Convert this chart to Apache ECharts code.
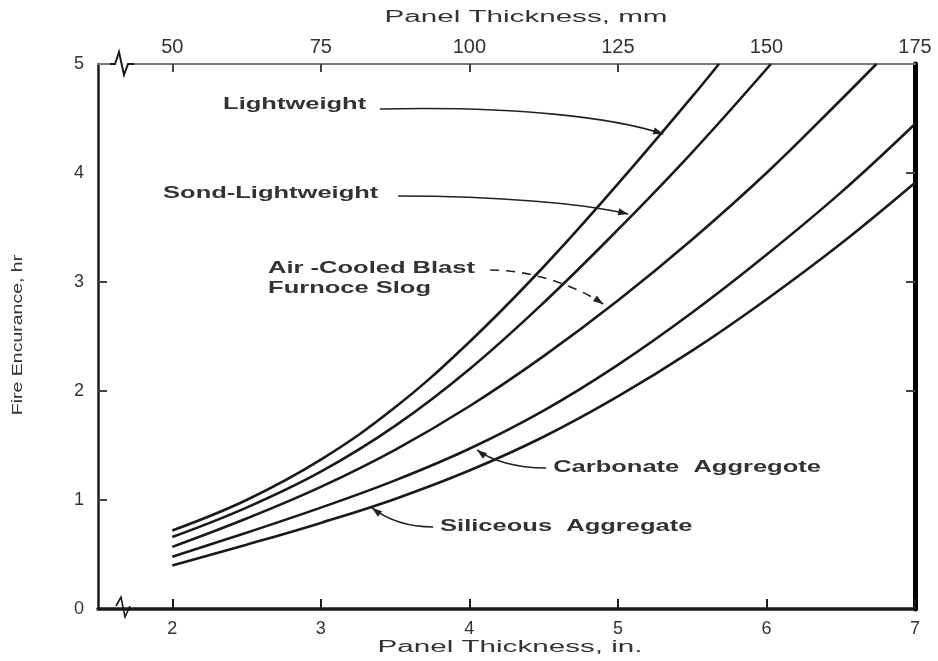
<!DOCTYPE html>
<html><head><meta charset="utf-8">
<script src="https://cdn.jsdelivr.net/npm/echarts@6/dist/echarts.min.js"></script>
<style>html,body{margin:0;padding:0;background:#fff}#c{width:938px;height:661px}</style>
</head><body><div id="c"></div>
<script>
// ---- tick labels ----
const inchTicks = [2, 3, 4, 5, 6, 7];
const mmLabels = [50, 75, 100, 125, 150, 175];
const mmTickMarks = [50, 75, 100, 125];
const hrLeftTicks = [1, 2, 3];
const hrRightTicks = [2, 3, 4];

// ---- series (x: panel thickness in., y: fire endurance hr) ----
const lightweightX = [2, 2.5, 3, 3.5, 4, 4.5, 5, 5.5, 5.68];
const lightweightY = [0.72, 1.0, 1.37, 1.85, 2.45, 3.14, 3.9, 4.7, 5.0];
const sandLightX = [2, 2.5, 3, 3.5, 4, 4.5, 5, 5.5, 6.03];
const sandLightY = [0.66, 0.93, 1.26, 1.68, 2.2, 2.81, 3.48, 4.19, 5.0];
const slagX = [2, 2.5, 3, 3.5, 4, 4.5, 5, 5.5, 6, 6.5, 6.74];
const slagY = [0.57, 0.83, 1.12, 1.46, 1.86, 2.32, 2.83, 3.39, 4.0, 4.67, 5.0];
const carbonateX = [2, 2.5, 3, 3.5, 4, 4.5, 5, 5.5, 6, 6.5, 7];
const carbonateY = [0.48, 0.7, 0.93, 1.18, 1.47, 1.82, 2.24, 2.72, 3.25, 3.82, 4.45];
const siliceousX = [2, 2.5, 3, 3.5, 4, 4.5, 5, 5.5, 6, 6.5, 7];
const siliceousY = [0.40, 0.59, 0.79, 1.01, 1.27, 1.58, 1.95, 2.37, 2.84, 3.35, 3.91];

const seriesDefs = [
  ['Lightweight', lightweightX, lightweightY],
  ['Sand-Lightweight', sandLightX, sandLightY],
  ['Air-Cooled Blast Furnace Slag', slagX, slagY],
  ['Carbonate Aggregate', carbonateX, carbonateY],
  ['Siliceous Aggregate', siliceousX, siliceousY]
];

// ---- annotations (data coordinates) ----
const labelTexts = ['Lightweight', 'Sond-Lightweight', 'Air -Cooled Blast\nFurnoce Slog', 'Carbonate  Aggregote', 'Siliceous  Aggregate'];
const labelAnchors = [[2.342, 4.633], [1.938, 3.817], [2.645, 3.037], [4.564, 1.303], [3.803, 0.761]];
const leaderPaths = [
  [[3.399, 4.587], [4.342, 4.615], [4.981, 4.505], [5.305, 4.358]],
  [[3.520, 3.789], [4.207, 3.789], [4.779, 3.716], [5.069, 3.624]],
  [[4.140, 3.110], [4.409, 3.110], [4.712, 2.972], [4.901, 2.798]],
  [[4.517, 1.294], [4.308, 1.294], [4.140, 1.367], [4.052, 1.459]],
  [[3.756, 0.752], [3.567, 0.752], [3.433, 0.835], [3.345, 0.927]]
];
const leaderDashed = [false, false, true, false, false];

const FONT = '"Liberation Sans", Arial, sans-serif';
const INK = '#1a1a1a';

const option = {
  backgroundColor: '#fff',
  animation: false,
  grid: { left: 98, right: 23, top: 64, bottom: 52 },
  xAxis: [
    {
      type: 'value', position: 'bottom', min: 1.5, max: 7,
      axisLine: { show: true, onZero: false, lineStyle: { color: INK, width: 3.5 } },
      axisTick: { show: true, inside: true, length: 10, customValues: inchTicks, lineStyle: { color: INK, width: 2 } },
      axisLabel: { customValues: inchTicks, fontSize: 18, color: '#333', margin: 11, fontFamily: FONT },
      splitLine: { show: false }
    },
    {
      type: 'value', position: 'top', min: 37.5, max: 175,
      axisLine: { show: true, onZero: false, lineStyle: { color: '#777', width: 2 } },
      axisTick: { show: true, inside: true, length: 8, customValues: mmTickMarks, lineStyle: { color: '#444', width: 2 } },
      axisLabel: { customValues: mmLabels, fontSize: 20, color: '#333', margin: 7, fontFamily: FONT },
      splitLine: { show: false }
    }
  ],
  yAxis: [
    {
      type: 'value', position: 'left', min: 0, max: 5, interval: 1,
      axisLine: { show: true, onZero: false, lineStyle: { color: INK, width: 2.5 } },
      axisTick: { show: true, inside: true, length: 9, customValues: hrLeftTicks, lineStyle: { color: '#444', width: 2 } },
      axisLabel: { fontSize: 18, color: '#333', margin: 14, fontFamily: FONT },
      splitLine: { show: false }
    },
    {
      type: 'value', position: 'right', min: 0, max: 5, interval: 1,
      axisLine: { show: true, onZero: false, lineStyle: { color: '#000', width: 5 } },
      axisTick: { show: true, inside: true, length: 9, customValues: hrRightTicks, lineStyle: { color: '#444', width: 2 } },
      axisLabel: { show: false },
      splitLine: { show: false }
    }
  ],
  series: seriesDefs.map(([name, xs, ys]) => ({
    name, type: 'line', xAxisIndex: 0, yAxisIndex: 0,
    data: xs.map((x, i) => [x, ys[i]]),
    smooth: 0.4, showSymbol: false, symbol: 'none',
    lineStyle: { color: INK, width: 2.6 },
    z: 5
  }))
};

const chart = echarts.init(document.getElementById('c'), null, { renderer: 'canvas' });
chart.setOption(option);

function px(p) { return chart.convertToPixel({ xAxisIndex: 0, yAxisIndex: 0 }, p); }

const graphics = [];
// leader lines with arrowheads
leaderPaths.forEach((path, k) => {
  const [s, c1, c2, e] = path.map(px);
  graphics.push({
    type: 'bezierCurve', z: 20,
    shape: { x1: s[0], y1: s[1], cpx1: c1[0], cpy1: c1[1], cpx2: c2[0], cpy2: c2[1], x2: e[0], y2: e[1] },
    style: { stroke: '#222', lineWidth: 1.6, fill: 'none', lineDash: leaderDashed[k] ? [9, 7] : null }
  });
  let dx = e[0] - c2[0], dy = e[1] - c2[1];
  const L = Math.hypot(dx, dy) || 1; dx /= L; dy /= L;
  const nx = -dy, ny = dx, len = 10, w = 3.5;
  graphics.push({
    type: 'polygon', z: 21,
    shape: { points: [[e[0], e[1]], [e[0] - dx * len + nx * w, e[1] - dy * len + ny * w], [e[0] - dx * len - nx * w, e[1] - dy * len - ny * w]] },
    style: { fill: '#222' }
  });
});
// annotation labels
labelTexts.forEach((t, k) => {
  const p = px(labelAnchors[k]);
  graphics.push({
    type: 'text', x: p[0], y: p[1], scaleX: 1.5, z: 22,
    style: { text: t, fontSize: 17, fontWeight: 'bold', fontFamily: FONT, fill: '#333', lineHeight: 20,
             textAlign: 'left', align: 'left', textVerticalAlign: 'middle', verticalAlign: 'middle' }
  });
});
// axis titles
graphics.push({
  type: 'text', x: 526, y: 18, scaleX: 1.85, z: 22,
  style: { text: 'Panel Thickness, mm', fontSize: 16, fontFamily: FONT, fill: '#333',
           textAlign: 'center', align: 'center', textVerticalAlign: 'middle', verticalAlign: 'middle' }
});
graphics.push({
  type: 'text', x: 510, y: 648, scaleX: 1.85, z: 22,
  style: { text: 'Panel Thickness, in.', fontSize: 16, fontFamily: FONT, fill: '#333',
           textAlign: 'center', align: 'center', textVerticalAlign: 'middle', verticalAlign: 'middle' }
});
graphics.push({
  type: 'text', x: 18, y: 335, rotation: Math.PI / 2, scaleX: 1.3, z: 22,
  style: { text: 'Fire Encurance, hr', fontSize: 15, fontFamily: FONT, fill: '#333',
           textAlign: 'center', align: 'center', textVerticalAlign: 'middle', verticalAlign: 'middle' }
});
// axis break marks
graphics.push({ type: 'rect', z: 23, shape: { x: 110, y: 60, width: 22, height: 9 }, style: { fill: '#fff' } });
graphics.push({ type: 'polyline', z: 24, shape: { points: [[110, 64], [115, 64], [119, 52], [124, 75], [128, 64], [134, 64]] }, style: { stroke: INK, lineWidth: 2, fill: 'none' } });
graphics.push({ type: 'polyline', z: 24, shape: { points: [[116, 606], [121, 597], [125, 617], [130, 606]] }, style: { stroke: INK, lineWidth: 1.6, fill: 'none' } });

chart.setOption({ graphic: { elements: graphics } });
</script>
</body></html>
